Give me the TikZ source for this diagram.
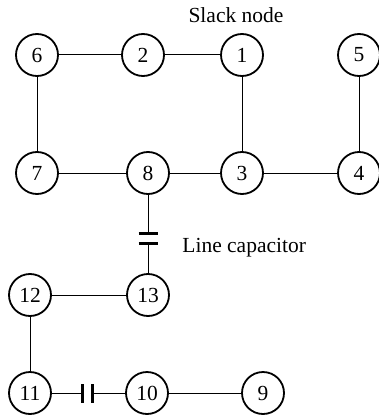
\documentclass[tikz,border=0pt]{standalone}
\usepackage{fontspec}
\setmainfont{Liberation Serif}
\begin{document}
\begin{tikzpicture}[x=0.5pt,y=-0.5pt,line join=round,
  bus/.style={circle,draw,line width=0.9pt,minimum size=21pt,inner sep=0pt,font=\fontsize{10.75}{12}\selectfont},
  plate/.style={line width=1.5pt}]
	\useasboundingbox (0,0) rectangle (379,417);
	\node[bus] (n6) at (37,55) {6};
	\node[bus] (n2) at (143,55) {2};
	\node[bus] (n1) at (242,55) {1};
	\node[bus] (n5) at (359,55) {5};
	\node[bus] (n7) at (37,173) {7};
	\node[bus] (n8) at (148,173) {8};
	\node[bus] (n3) at (242,173) {3};
	\node[bus] (n4) at (359,173) {4};
	\node[bus] (n13) at (148,295) {13};
	\node[bus] (n12) at (30,295) {12};
	\node[bus] (n11) at (30,393) {11};
	\node[bus] (n10) at (147,393) {10};
	\node[bus] (n9) at (263,393) {9};
	\node[font=\fontsize{10.75}{12}\selectfont] (slack) at (236,15) {Slack node};
	\node[font=\fontsize{10.75}{12}\selectfont,anchor=west,inner sep=0pt] (cap) at (182,248) {Line capacitor};
	% lines
	\draw[line width=0.5pt] (n6)--(n2) (n2)--(n1) (n6)--(n7) (n7)--(n8) (n8)--(n3)
	(n1)--(n3) (n3)--(n4) (n5)--(n4) (n12)--(n13) (n12)--(n11) (n10)--(n9);
	% capacitors
	\coordinate (ca) at (148,233);
	\coordinate (cb) at (148,243);
	\coordinate (cc) at (82,393);
	\coordinate (cd) at (92,393);
	\draw[line width=0.5pt] (n8)--(ca) (cb)--(n13) (n11)--(cc) (cd)--(n10);
	\draw[plate] ([xshift=-4.75pt]ca)--([xshift=4.75pt]ca) ([xshift=-4.75pt]cb)--([xshift=4.75pt]cb);
	\draw[plate] ([yshift=-4.75pt]cc)--([yshift=4.75pt]cc) ([yshift=-4.75pt]cd)--([yshift=4.75pt]cd);
\end{tikzpicture}
\end{document}
